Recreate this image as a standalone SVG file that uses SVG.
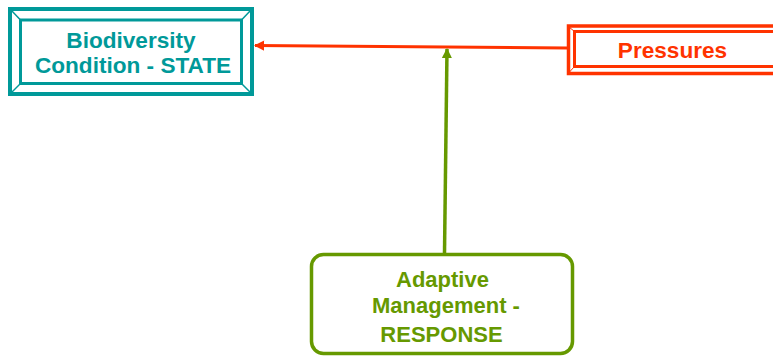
<svg xmlns="http://www.w3.org/2000/svg" width="773" height="356" viewBox="0 0 773 356">
  <defs>
    <style>
      .lbl { font-family: "Liberation Sans", Arial, sans-serif; font-weight: bold; font-size: 22px; text-anchor: middle; }
      .big { font-size: 22.6px; }
      .state { fill: #009999; }
      .press { fill: #FF3300; }
      .resp { fill: #669900; }
    </style>
    <marker id="arrRed" viewBox="0 0 10 10" refX="9" refY="5" markerWidth="3.6" markerHeight="3.4" orient="auto" markerUnits="strokeWidth">
      <path d="M0,0 L10,5 L0,10 z" fill="#FF3300"/>
    </marker>
    <marker id="arrGreen" viewBox="0 0 10 10" refX="9" refY="5" markerWidth="3" markerHeight="3" orient="auto" markerUnits="strokeWidth">
      <path d="M0,0 L10,5 L0,10 z" fill="#669900"/>
    </marker>
  </defs>
  <rect width="773" height="356" fill="#ffffff"/>

  <!-- connectors -->
  <g id="connectors" fill="none">
    <line x1="567" y1="48" x2="255" y2="45.5" stroke="#FF3300" stroke-width="3" marker-end="url(#arrRed)"/>
    <line x1="444.5" y1="253" x2="447" y2="49" stroke="#669900" stroke-width="3.5" marker-end="url(#arrGreen)"/>
  </g>

  <!-- state node: bevelled frame -->
  <g id="state" fill="none" stroke="#009999">
    <rect x="10" y="9" width="242" height="85" stroke-width="4"/>
    <rect x="20.5" y="20" width="221" height="63.5" stroke-width="3"/>
    <g stroke-width="1.5">
      <line x1="11" y1="10" x2="20.5" y2="20"/>
      <line x1="251" y1="10" x2="241.5" y2="20"/>
      <line x1="11" y1="93" x2="20.5" y2="83.5"/>
      <line x1="251" y1="93" x2="241.5" y2="83.5"/>
    </g>
    <text class="lbl big state" x="131" y="48" stroke="none">Biodiversity</text>
    <text class="lbl big state" x="133" y="73" stroke="none">Condition - STATE</text>
  </g>

  <!-- pressures node: double frame -->
  <g id="pressures" fill="none" stroke="#FF3300">
    <rect x="568.5" y="26" width="220" height="47.5" stroke-width="3.5"/>
    <rect x="574.5" y="31.5" width="210" height="35" stroke-width="3"/>
    <line x1="569" y1="27" x2="574.5" y2="31.5" stroke-width="1"/>
    <line x1="569" y1="72.5" x2="574.5" y2="66.5" stroke-width="1"/>
    <text class="lbl big press" x="672.5" y="58" stroke="none">Pressures</text>
  </g>

  <!-- response node: rounded box -->
  <g id="response">
    <rect x="311.5" y="254.5" width="261" height="99" rx="12" ry="12" fill="#ffffff" stroke="#669900" stroke-width="3.5"/>
    <text class="lbl resp" x="442.5" y="287">Adaptive</text>
    <text class="lbl resp" x="446" y="313">Management -</text>
    <text class="lbl resp" x="441.5" y="342">RESPONSE</text>
  </g>
</svg>
